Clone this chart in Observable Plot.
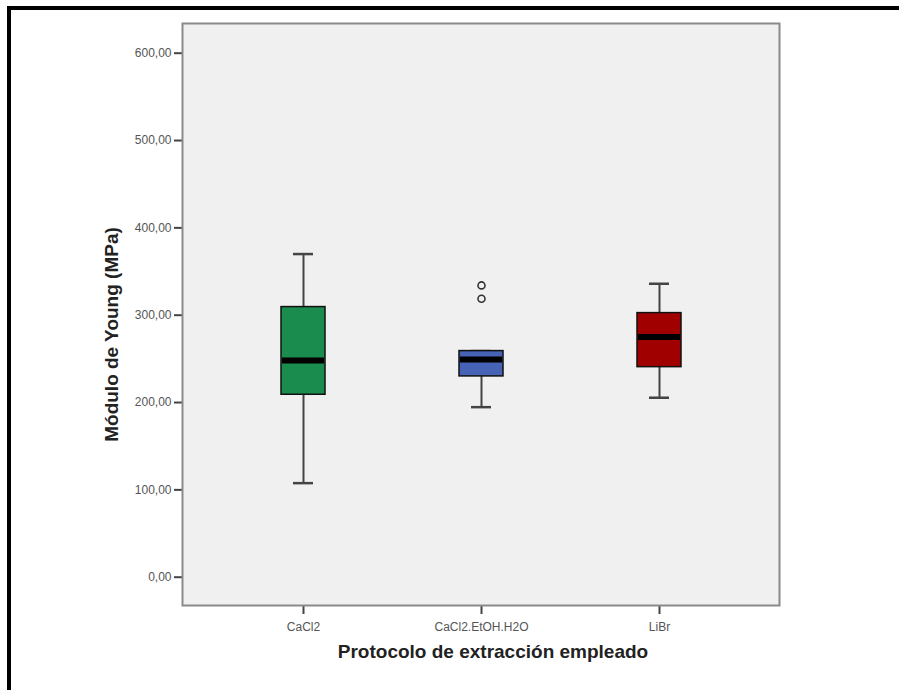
<!DOCTYPE html>
<html>
<head>
<meta charset="utf-8">
<script src="https://cdn.jsdelivr.net/npm/d3@7"></script>
<script src="https://cdn.jsdelivr.net/npm/@observablehq/plot@0.6"></script>
<style>
  html, body { margin: 0; padding: 0; background: #fff; }
  #wrap { position: relative; width: 899px; height: 690px; overflow: hidden; font-family: "Liberation Sans", Arial, sans-serif; }
  #border { position: absolute; left: 7px; top: 6px; right: -10px; bottom: -10px; border-top: 4px solid #000; border-left: 4px solid #000; pointer-events: none; }
  #chart svg { display: block; }
</style>
</head>
<body>
<div id="wrap">
  <div id="chart"></div>
  <div id="border"></div>
</div>
<script>
// ---- data ----
const categories = ["CaCl2", "CaCl2.EtOH.H2O", "LiBr"];
const whiskerLow  = [107.7, 194.7, 205.5];
const q1          = [208.9, 229.9, 240.5];
const median      = [248.2, 249.4, 275.0];
const q3          = [309.3, 258.9, 302.4];
const whiskerHigh = [370.0, 258.9, 336.0];
const outlierCategory = ["CaCl2.EtOH.H2O", "CaCl2.EtOH.H2O"];
const outlierValues   = [334.1, 318.9];
const boxColors = ["#1a8c4e", "#4763b5", "#a10000"];
const yTicks = [0, 100, 200, 300, 400, 500, 600];
const xTitle = "Protocolo de extracción empleado";
const yTitle = "Módulo de Young (MPa)";

const boxes = categories.map((c, i) => ({
  cat: c, lo: whiskerLow[i], q1: q1[i], med: median[i], q3: q3[i], hi: whiskerHigh[i], color: boxColors[i]
}));
const outliers = outlierValues.map((v, i) => ({cat: outlierCategory[i], v}));

const fmt = d => d.toFixed(2).replace(".", ",");

const chart = Plot.plot({
  width: 899,
  height: 690,
  marginLeft: 182,
  marginRight: 120,
  marginTop: 23,
  marginBottom: 85,
  style: {fontFamily: "'Liberation Sans', Arial, sans-serif", background: "transparent"},
  x: {domain: categories, paddingInner: 0.754, paddingOuter: 0.545, label: null},
  y: {domain: [-32.4, 634], label: null},
  color: {type: "identity"},
  marks: [
    Plot.frame({fill: "#f0f0f0", stroke: null}),
    Plot.axisY({ticks: yTicks, tickFormat: fmt, tickSize: 8, tickPadding: 3, stroke: "#444", strokeWidth: 2,
      fill: "#555", fontSize: 12, label: null}),
    Plot.axisX({tickSize: 9, tickPadding: 8, stroke: "#444", strokeWidth: 2, fill: "#555", fontSize: 12, label: null}),
    // whiskers
    Plot.ruleX(boxes, {x: "cat", y1: "lo", y2: "q1", stroke: "#444", strokeWidth: 2}),
    Plot.ruleX(boxes, {x: "cat", y1: "q3", y2: "hi", stroke: "#444", strokeWidth: 2}),
    Plot.tickY(boxes, {x: "cat", y: "lo", stroke: "#444", strokeWidth: 2.5, insetLeft: 12, insetRight: 12}),
    Plot.tickY(boxes, {x: "cat", y: "hi", stroke: "#444", strokeWidth: 2.5, insetLeft: 12, insetRight: 12}),
    // boxes
    Plot.barY(boxes, {x: "cat", y1: "q1", y2: "q3", fill: "color", stroke: "#111", strokeWidth: 1.5}),
    // medians
    Plot.tickY(boxes, {x: "cat", y: "med", stroke: "#000", strokeWidth: 6, insetLeft: 1, insetRight: 1}),
    // outliers
    Plot.dot(outliers, {x: "cat", y: "v", r: 3.5, stroke: "#333", strokeWidth: 1.6, fill: "#f0f0f0"}),
    Plot.frame({stroke: "#8a8a8a", strokeWidth: 2}),
    // titles
    Plot.text([xTitle], {frameAnchor: "bottom", textAnchor: "middle", dy: 52, dx: 12, fontSize: 19, fontWeight: "bold", fill: "#222"}),
    Plot.text([yTitle], {frameAnchor: "left", textAnchor: "middle", dx: -71, dy: 20, rotate: -90, fontSize: 19, fontWeight: "bold", fill: "#222"})
  ]
});
document.getElementById("chart").appendChild(chart);
</script>
</body>
</html>
